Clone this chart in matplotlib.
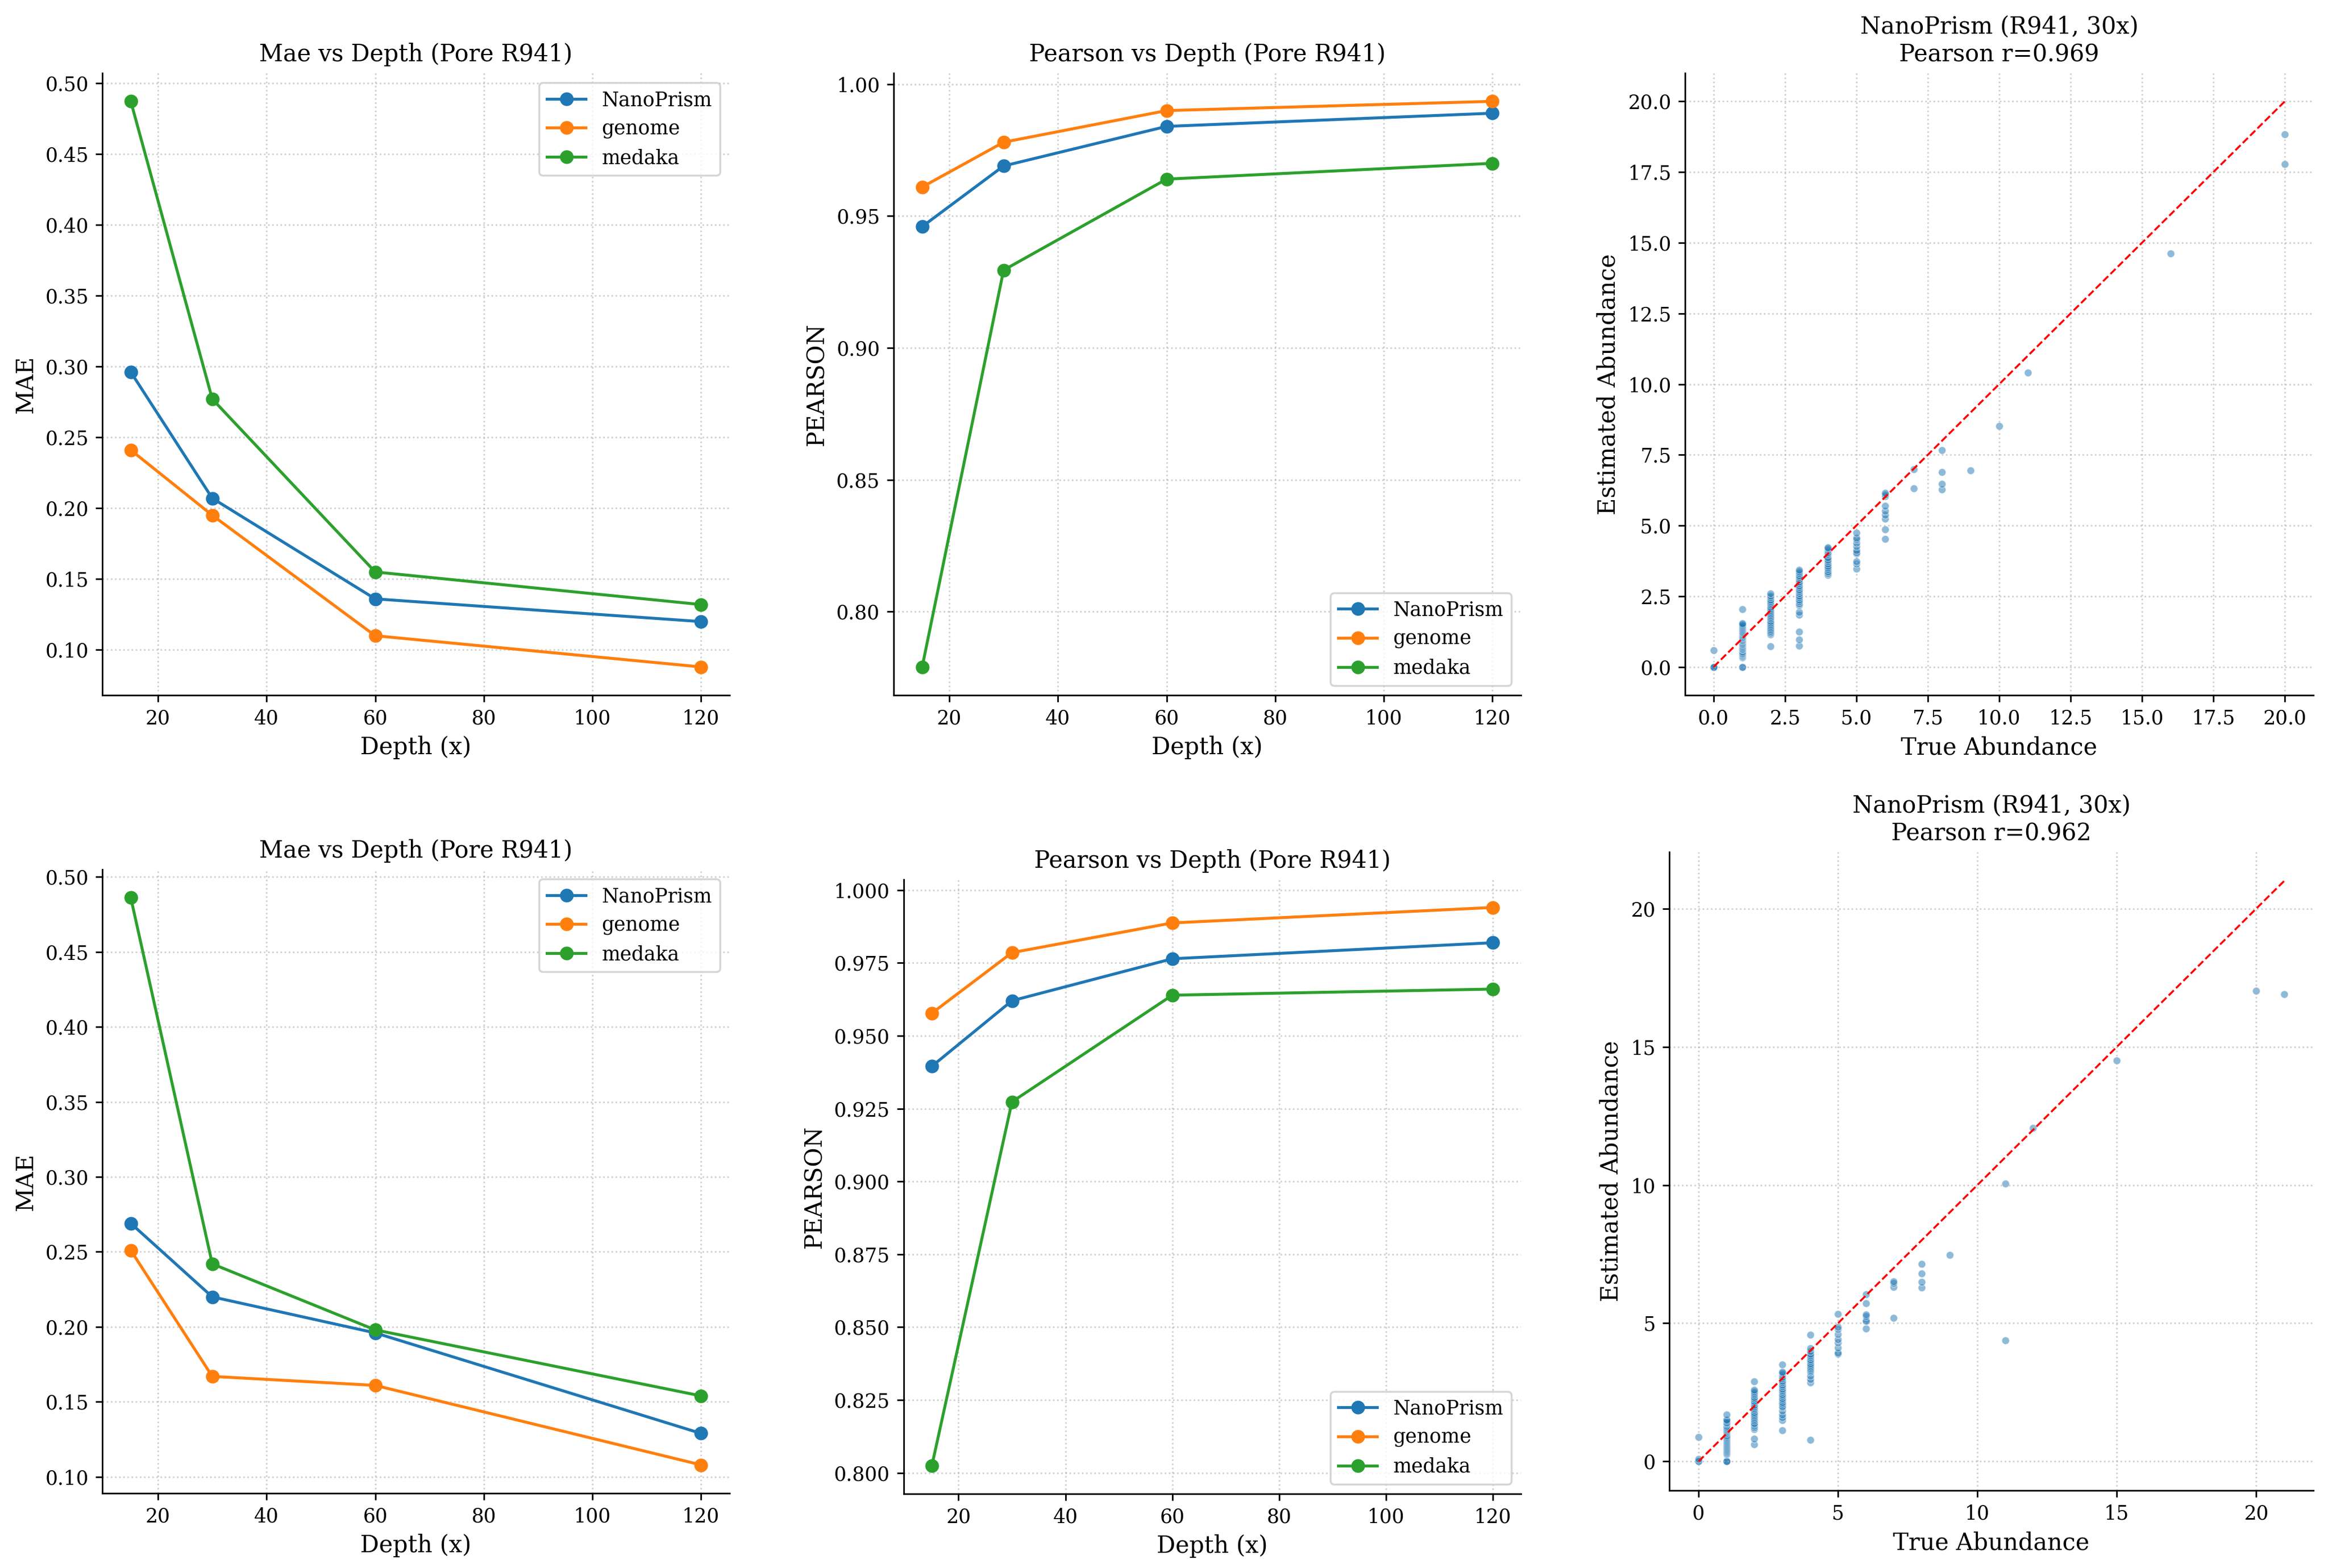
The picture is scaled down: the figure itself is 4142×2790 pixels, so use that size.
import matplotlib
matplotlib.use('Agg')
from matplotlib import pyplot as plt

plt.rcParams['font.family'] = 'DejaVu Serif'

depths = [15, 30, 60, 120]
methods = ['NanoPrism', 'genome', 'medaka']
colors = ['tab:blue', 'tab:orange', 'tab:green']

# row 1
mae_top = {
    'NanoPrism': [0.296, 0.207, 0.136, 0.120],
    'genome': [0.241, 0.195, 0.110, 0.088],
    'medaka': [0.487, 0.277, 0.155, 0.132],
}
pearson_top = {
    'NanoPrism': [0.946, 0.969, 0.984, 0.989],
    'genome': [0.961, 0.978, 0.990, 0.9935],
    'medaka': [0.779, 0.9295, 0.964, 0.970],
}
# row 2
mae_bottom = {
    'NanoPrism': [0.269, 0.220, 0.196, 0.129],
    'genome': [0.251, 0.167, 0.161, 0.108],
    'medaka': [0.486, 0.242, 0.198, 0.154],
}
pearson_bottom = {
    'NanoPrism': [0.9395, 0.962, 0.9764, 0.9819],
    'genome': [0.9577, 0.9785, 0.9887, 0.994],
    'medaka': [0.8024, 0.9273, 0.9639, 0.966],
}

# scatter: true abundance levels and the estimates seen at each level
top_true = [0, 1, 2, 3, 4, 5, 6, 7, 8, 9, 10, 11, 16, 20]
top_est = [
    [0.0, 0.0, 0.0, 0.59],
    [0.0, 0.0, 0.34, 0.37, 0.41, 0.45, 0.48, 0.52, 0.55, 0.6, 0.63, 0.67, 0.7, 0.74, 0.78, 0.81,
     0.85, 0.88, 0.92, 0.95, 0.99, 1.02, 1.05, 1.09, 1.12, 1.16, 1.2, 1.23, 1.27, 1.31, 1.35,
     1.39, 1.43, 1.47, 1.51, 1.54, 2.05],
    [0.73, 1.14, 1.2, 1.26, 1.32, 1.38, 1.45, 1.51, 1.57, 1.63, 1.7, 1.76, 1.82, 1.88, 1.94, 2.0,
     2.07, 2.13, 2.19, 2.25, 2.31, 2.38, 2.45, 2.52, 2.6],
    [0.74, 0.96, 1.25, 1.84, 1.95, 2.17, 2.24, 2.31, 2.38, 2.45, 2.52, 2.6, 2.67, 2.74, 2.81,
     2.88, 2.95, 3.02, 3.1, 3.17, 3.24, 3.31, 3.38, 3.43],
    [3.26, 3.32, 3.38, 3.45, 3.52, 3.58, 3.65, 3.72, 3.79, 3.86, 3.98, 4.05, 4.12, 4.18, 4.23],
    [3.48, 3.66, 3.73, 4.0, 4.05, 4.13, 4.26, 4.39, 4.5, 4.56, 4.74],
    [4.52, 4.86, 5.24, 5.38, 5.52, 5.69, 6.03, 6.1, 6.15],
    [6.31, 6.98],
    [6.27, 6.48, 6.89, 7.66],
    [6.94],
    [8.52],
    [10.41],
    [14.62],
    [17.78, 18.83],
]
top_r = 0.969

bottom_true = [0, 1, 2, 3, 4, 5, 6, 7, 8, 9, 11, 12, 15, 20, 21]
bottom_est = [
    [0.0, 0.0, 0.08, 0.89],
    [0.0, 0.0, 0.0, 0.25, 0.29, 0.33, 0.37, 0.41, 0.45, 0.49, 0.53, 0.58, 0.62, 0.66, 0.7, 0.74,
     0.79, 0.83, 0.87, 0.91, 0.95, 1.0, 1.04, 1.08, 1.12, 1.17, 1.21, 1.25, 1.29, 1.34, 1.38,
     1.42, 1.47, 1.52, 1.69],
    [0.61, 0.82, 1.16, 1.22, 1.28, 1.34, 1.4, 1.47, 1.53, 1.59, 1.65, 1.72, 1.78, 1.85, 1.92,
     1.98, 2.05, 2.12, 2.19, 2.26, 2.33, 2.4, 2.47, 2.53, 2.59, 2.89],
    [1.13, 1.5, 1.6, 1.7, 1.84, 1.95, 2.01, 2.08, 2.15, 2.22, 2.29, 2.36, 2.43, 2.5, 2.57, 2.64,
     2.71, 2.78, 2.85, 2.92, 2.99, 3.06, 3.13, 3.19, 3.24, 3.5],
    [0.78, 2.86, 2.98, 3.1, 3.24, 3.3, 3.36, 3.42, 3.48, 3.55, 3.62, 3.69, 3.76, 3.83, 3.9,
     3.99, 4.09, 4.58],
    [3.9, 3.93, 4.12, 4.29, 4.43, 4.6, 4.78, 4.87, 5.33],
    [4.8, 5.07, 5.1, 5.25, 5.31, 5.72, 6.05],
    [5.2, 6.32, 6.45, 6.52],
    [6.3, 6.49, 6.79, 7.14],
    [7.46],
    [4.38, 10.05],
    [12.07],
    [14.51],
    [17.03],
    [16.9],
]
bottom_r = 0.962

W, H, DPI = 4142, 2790, 250
fig = plt.figure(figsize=(W / DPI, H / DPI), dpi=DPI)


def make_ax(left, top, right, bottom):
    # pixel box -> figure fraction
    return fig.add_axes([left / W, 1 - bottom / H, (right - left) / W, (bottom - top) / H])


def style(ax):
    ax.grid(True, linestyle=':', alpha=0.6)
    ax.spines['top'].set_visible(False)
    ax.spines['right'].set_visible(False)


def draw_lines(ax, values, metric, legend_loc):
    for m, c in zip(methods, colors):
        ax.plot(depths, values[m], marker='o', color=c, label=m)
    ax.set_title(f'{metric.capitalize()} vs Depth (Pore R941)', fontsize=12)
    ax.set_xlabel('Depth (x)', fontsize=12)
    ax.set_ylabel(metric.upper(), fontsize=12)
    ax.legend(loc=legend_loc)
    style(ax)


def draw_scatter(ax, true_levels, est_groups, r):
    xs, ys = [], []
    for t, grp in zip(true_levels, est_groups):
        xs += [t] * len(grp)
        ys += grp
    ax.scatter(xs, ys, s=15, alpha=0.5, color='tab:blue', edgecolors='white', linewidths=0.4)
    mx = max(true_levels)
    ax.plot([0, mx], [0, mx], 'r--', linewidth=1)
    ax.set_title(f'NanoPrism (R941, 30x)\nPearson r={r:.3f}', fontsize=12)
    ax.set_xlabel('True Abundance', fontsize=12)
    ax.set_ylabel('Estimated Abundance', fontsize=12)
    style(ax)


ax = make_ax(182, 130, 1298, 1237)
draw_lines(ax, mae_top, 'mae', 'upper right')
ax = make_ax(1590, 130, 2706, 1237)
draw_lines(ax, pearson_top, 'pearson', 'lower right')
ax = make_ax(2998, 130, 4116, 1237)
draw_scatter(ax, top_true, top_est, top_r)

ax = make_ax(182, 1547, 1298, 2657)
draw_lines(ax, mae_bottom, 'mae', 'upper right')
ax = make_ax(1608, 1565, 2706, 2658)
draw_lines(ax, pearson_bottom, 'pearson', 'lower right')
ax = make_ax(2970, 1516, 4116, 2652)
draw_scatter(ax, bottom_true, bottom_est, bottom_r)

fig.savefig('out.png', dpi=DPI)
